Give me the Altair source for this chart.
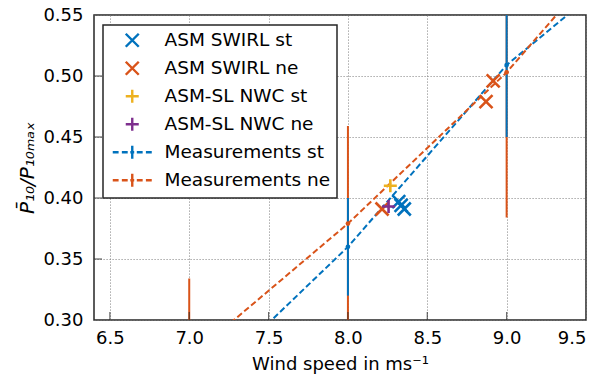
import altair as alt
import pandas as pd

# ---- data ----
meas_x = [7.0, 8.0, 9.0, 10.0]
st_y = [0.235, 0.360, 0.509, 0.616]
st_err = [0.050, 0.040, 0.059, 0.060]
ne_y = [0.269, 0.379, 0.503, 0.653]
ne_err = [0.065, 0.080, 0.119, 0.120]

swirl_st_x = [8.32, 8.335, 8.355]
swirl_st_y = [0.397, 0.394, 0.391]
swirl_ne_x = [8.215, 8.87, 8.915]
swirl_ne_y = [0.391, 0.479, 0.496]
nwc_st_x = [8.267]
nwc_st_y = [0.410]
nwc_ne_x = [8.256]
nwc_ne_y = [0.393]

x_ticks = [6.5, 7.0, 7.5, 8.0, 8.5, 9.0, 9.5]
y_ticks = [0.30, 0.35, 0.40, 0.45, 0.50, 0.55]

series = ["ASM SWIRL st", "ASM SWIRL ne", "ASM-SL NWC st", "ASM-SL NWC ne",
          "Measurements st", "Measurements ne"]
BLUE, ORANGE, YELLOW, PURPLE = "#0072BD", "#D95319", "#EDB120", "#7E2F8E"
colors = [BLUE, ORANGE, YELLOW, PURPLE, BLUE, ORANGE]
X_SHAPE = "M-1,-1L1,1M-1,1L1,-1"
PLUS = "M-1,0L1,0M0,-1L0,1"
MEAS = "M-3,0L-2.1,0M-1.6,0L-0.7,0M-0.3,0L0.3,0M0.7,0L1.6,0M2.1,0L3,0M0,-1L0,1"
shapes = [X_SHAPE, X_SHAPE, PLUS, PLUS, MEAS, MEAS]

FONT = "DejaVu Sans"
XD = [6.4, 9.5]
YD = [0.30, 0.55]

# ---- tables ----
markers = pd.concat([
    pd.DataFrame({"x": swirl_st_x, "y": swirl_st_y, "s": series[0]}),
    pd.DataFrame({"x": swirl_ne_x, "y": swirl_ne_y, "s": series[1]}),
    pd.DataFrame({"x": nwc_st_x, "y": nwc_st_y, "s": series[2]}),
    pd.DataFrame({"x": nwc_ne_x, "y": nwc_ne_y, "s": series[3]}),
], ignore_index=True)

st = pd.DataFrame({"x": meas_x, "y": st_y,
                   "lo": [a - b for a, b in zip(st_y, st_err)],
                   "hi": [a + b for a, b in zip(st_y, st_err)]})
ne = pd.DataFrame({"x": meas_x, "y": ne_y,
                   "lo": [a - b for a, b in zip(ne_y, ne_err)],
                   "hi": [a + b for a, b in zip(ne_y, ne_err)]})

xscale = alt.Scale(domain=XD, nice=False, zero=False)
yscale = alt.Scale(domain=YD, nice=False, zero=False)

xaxis = alt.Axis(values=x_ticks, format=".1f", title="Wind speed in ms⁻¹",
                 ticks=False, domain=False, labelPadding=9, titlePadding=8,
                 grid=True, gridColor="#777777", gridDash=[1.2, 1.8], gridWidth=0.8)
yaxis = alt.Axis(values=y_ticks, format=".2f",
                 title="P\u0304\u2081\u2080/P\u2081\u2080\u2098\u2090\u2093",
                 ticks=False, domain=False, labelPadding=11, titlePadding=5,
                 titleFontStyle="italic", titleFontSize=20,
                 grid=True, gridColor="#777777", gridDash=[1.2, 1.8], gridWidth=0.8)

def bars(df, color):
    return alt.Chart(df).mark_rule(color=color, strokeWidth=2, clip=True).encode(
        x=alt.X("x:Q", scale=xscale, axis=xaxis),
        y=alt.Y("lo:Q", scale=yscale, axis=yaxis),
        y2="hi:Q")

def line(df, color):
    return alt.Chart(df).mark_line(color=color, strokeWidth=2, strokeDash=[6, 3],
                                   clip=True).encode(
        x=alt.X("x:Q", scale=xscale), y=alt.Y("y:Q", scale=yscale))

def dots(df, color):
    return alt.Chart(df).mark_point(color=color, filled=True, size=22, opacity=1,
                                    clip=True).encode(
        x=alt.X("x:Q", scale=xscale), y=alt.Y("y:Q", scale=yscale))

marks = alt.Chart(markers).mark_point(filled=False, size=169, strokeWidth=2.6,
                                      opacity=1).encode(
    x=alt.X("x:Q", scale=xscale),
    y=alt.Y("y:Q", scale=yscale),
    color=alt.Color("s:N", scale=alt.Scale(domain=series, range=colors),
                    legend=alt.Legend(title=None, orient="none", legendX=9, legendY=10,
                                      labelFont=FONT, labelFontSize=18.5, labelColor="black",
                                      symbolSize=169, symbolStrokeWidth=2.4,
                                      padding=6, rowPadding=4, labelOffset=23,
                                      symbolOffset=14, strokeColor="#262626",
                                      fillColor="white", labelLimit=400)),
    shape=alt.Shape("s:N", scale=alt.Scale(domain=series, range=shapes), legend=None),
)

xt = pd.DataFrame({"x": x_ticks[:-1]})
yt = pd.DataFrame({"y": y_ticks[1:-1]})
xtick = alt.Chart(xt).mark_tick(orient="vertical", size=8, thickness=1.2,
                                color="#262626", yOffset=-4).encode(
    x=alt.X("x:Q", scale=xscale), y=alt.datum(0.30))
ytick = alt.Chart(yt).mark_tick(orient="horizontal", size=8, thickness=1.2,
                                color="#262626", xOffset=4).encode(
    y=alt.Y("y:Q", scale=yscale), x=alt.datum(6.4))

chart = alt.layer(
    bars(ne, ORANGE), bars(st, BLUE),
    line(st, BLUE), line(ne, ORANGE),
    dots(ne, ORANGE), dots(st, BLUE),
    marks, xtick, ytick,
).properties(
    width=492, height=305,
    autosize=alt.AutoSizeParams(type="none"),
    padding={"left": 94, "top": 15, "right": 12, "bottom": 63},
).configure(font=FONT).configure_axis(
    labelFont=FONT, labelFontSize=18, labelColor="black",
    titleFont=FONT, titleFontSize=18, titleFontWeight="normal", titleColor="black",
).configure_legend(strokeWidth=1.5, cornerRadius=0).configure_view(
    stroke="#262626", strokeWidth=1.5)

chart.save("out.html", embed_options={"renderer": "svg", "actions": False})
